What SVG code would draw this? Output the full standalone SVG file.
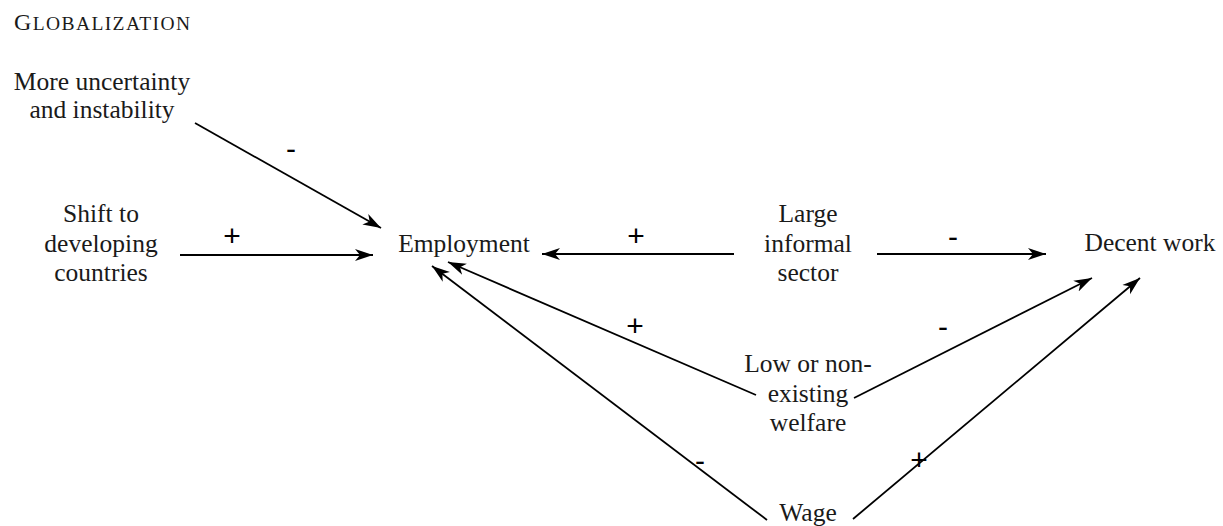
<svg xmlns="http://www.w3.org/2000/svg" width="1223" height="526" viewBox="0 0 1223 526">
<style>
.c{stroke:#000;stroke-width:1.8;fill:none;marker-end:url(#ah)}
</style>
<defs>
<marker id="ah" markerUnits="userSpaceOnUse" markerWidth="20" markerHeight="14" viewBox="0 0 20 14" refX="18" refY="7" orient="auto">
<path d="M0,1 L18,7 L0,13 L5,7 Z" fill="#000"/>
</marker>
</defs>
<rect width="1223" height="526" fill="#fff"/>
<g font-family="Liberation Serif, Times New Roman, serif" fill="#1a1a1a">
<g id="title"><text x="14" y="30" font-size="24" textLength="176" lengthAdjust="spacing">G<tspan font-size="19.5">LOBALIZATION</tspan></text></g>
<g font-size="25.5" text-anchor="middle">
<g id="node-uncertainty"><text x="102" y="90">More uncertainty</text><text x="102" y="118">and instability</text></g>
<g id="node-shift"><text x="101" y="222">Shift to</text><text x="101" y="252">developing</text><text x="101" y="281">countries</text></g>
<g id="node-employment"><text x="464" y="252">Employment</text></g>
<g id="node-informal"><text x="808" y="222">Large</text><text x="808" y="252">informal</text><text x="808" y="281">sector</text></g>
<g id="node-decent"><text x="1150" y="251">Decent work</text></g>
<g id="node-welfare"><text x="808" y="372">Low or non-</text><text x="808" y="402">existing</text><text x="808" y="431">welfare</text></g>
<g id="node-wage"><text x="808" y="521">Wage</text></g>
</g>
</g>
<g id="connectors">
<line class="c" x1="195" y1="123" x2="381" y2="228"/>
<line class="c" x1="180" y1="255" x2="373" y2="255"/>
<line class="c" x1="734" y1="254" x2="542" y2="254"/>
<line class="c" x1="877" y1="254" x2="1046" y2="254"/>
<line class="c" x1="854" y1="398" x2="1092" y2="278"/>
<line class="c" x1="853" y1="519" x2="1140" y2="278"/>
<line class="c" x1="756" y1="395" x2="448" y2="262"/>
<line class="c" x1="767" y1="520" x2="432" y2="266"/>
</g>
<g id="labels" font-family="Liberation Sans, Arial, sans-serif" font-size="30" fill="#000" text-anchor="middle">
<text x="291" y="159">-</text>
<text x="232" y="246">+</text>
<text x="636" y="246">+</text>
<text x="953" y="247">-</text>
<text x="943" y="337">-</text>
<text x="635" y="336">+</text>
<text x="700" y="471">-</text>
<text x="919" y="470">+</text>
</g>
</svg>
